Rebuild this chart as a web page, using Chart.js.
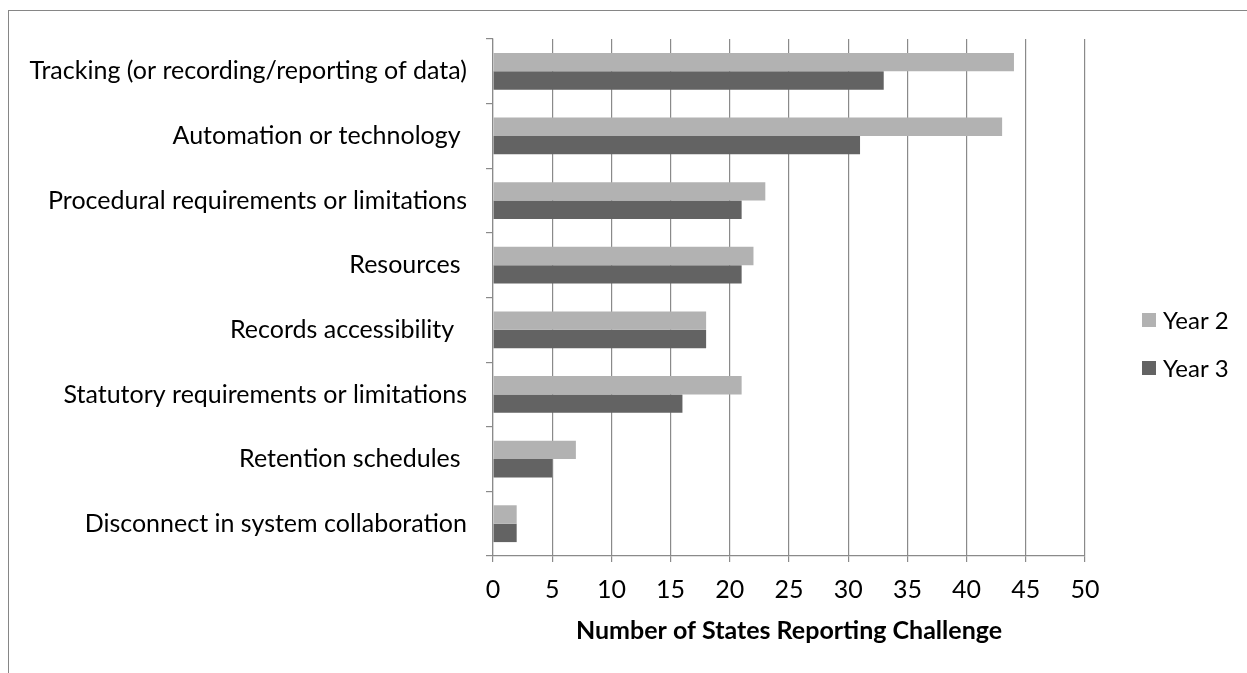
<!DOCTYPE html>
<html>
<head>
<meta charset="utf-8">
<title>Number of States Reporting Challenge</title>
<script src="https://cdn.jsdelivr.net/npm/chart.js@4.4.1/dist/chart.umd.min.js"></script>
<style>
  body { margin: 0; background: #fff; }
  #frame {
    position: absolute; left: 8px; top: 10px; width: 1250px; height: 680px;
    border-top: 1px solid #868686; border-left: 1px solid #868686;
  }
  #graph { position: absolute; left: 0; top: 0; }
</style>
</head>
<body>
<div id="frame"></div>
<canvas id="graph" width="1247" height="673"></canvas>
<script>
// labels keep the trailing spaces they have in the original sheet
const challenges = [
  'Tracking (or recording/reporting of data)',
  'Automation or technology ',
  'Procedural requirements or limitations',
  'Resources ',
  'Records accessibility  ',
  'Statutory requirements or limitations',
  'Retention schedules ',
  'Disconnect in system collaboration'
];
const year2 = [44, 43, 23, 22, 18, 21, 7, 2];
const year3 = [33, 31, 21, 21, 18, 16, 5, 2];
const seriesNames = ['Year 2', 'Year 3'];
const axisTitle = 'Number of States Reporting Challenge';

const font = 'Lato';
const size = 25;
const grey = '#8a8a8a';

// legend drawn to the right of the plot, like the original
const sideLegend = {
  id: 'sideLegend',
  afterDraw(chart) {
    const ctx = chart.ctx;
    const x = chart.chartArea.right + 57;
    const mid = 344;
    const step = 48;
    const sets = chart.data.datasets;
    ctx.save();
    ctx.font = '24px ' + font;
    ctx.textBaseline = 'middle';
    ctx.textAlign = 'left';
    sets.forEach((ds, i) => {
      const y = mid + (i - (sets.length - 1) / 2) * step;
      ctx.fillStyle = ds.backgroundColor;
      ctx.fillRect(x, y - 7, 14, 14);
      ctx.fillStyle = '#000';
      ctx.fillText(ds.label, x + 21, y + 1);
    });
    ctx.restore();
  }
};

const data = {
  labels: challenges,
  datasets: [
    { label: seriesNames[0], data: year2, backgroundColor: '#b2b2b2' },
    { label: seriesNames[1], data: year3, backgroundColor: '#636363' }
  ]
};

const options = {
  indexAxis: 'y',
  responsive: false,
  animation: false,
  datasets: { bar: { categoryPercentage: 0.57, barPercentage: 1 } },
  layout: { padding: { top: 39, right: 162, bottom: 0, left: 0 } },
  plugins: { legend: { display: false }, tooltip: { enabled: false } },
  scales: {
    x: {
      min: 0, max: 50,
      ticks: { stepSize: 5, color: '#000', padding: 13, font: { family: font, size: size } },
      grid: { color: grey, lineWidth: 1.2, tickLength: 6 },
      border: { color: grey, width: 1.2 },
      title: {
        display: true, text: axisTitle, color: '#000',
        font: { family: font, size: size, weight: 'bold' },
        padding: { top: 0, bottom: 27 }
      },
      afterFit: (scale) => { scale.height = 117; }
    },
    y: {
      ticks: { color: '#000', padding: 19, font: { family: font, size: size } },
      grid: { drawOnChartArea: false, color: grey, lineWidth: 1.2, tickLength: 7 },
      border: { color: grey, width: 1.2 },
      afterFit: (scale) => { scale.width = 493; }
    }
  }
};

const canvas = document.querySelector('#graph');
new Chart(canvas, { type: 'bar', data: data, options: options, plugins: [sideLegend] });
</script>
</body>
</html>
